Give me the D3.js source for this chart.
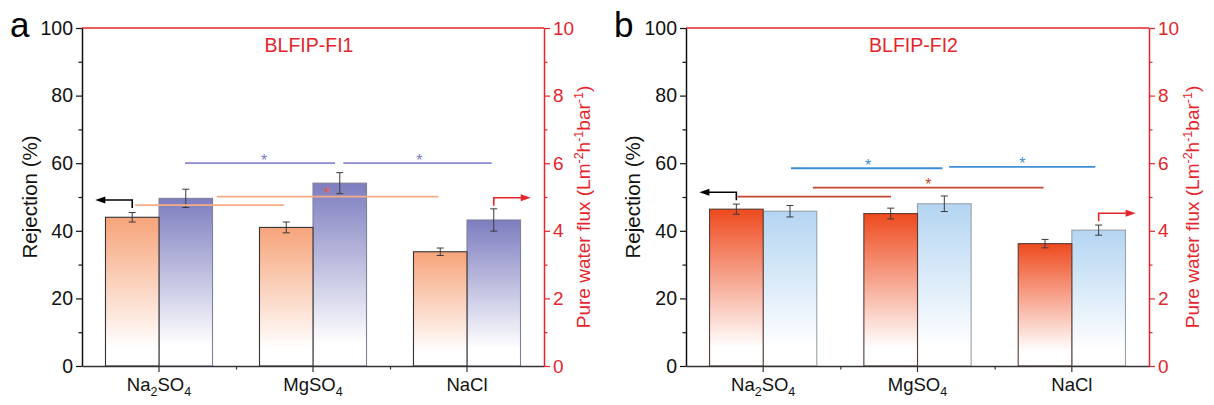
<!DOCTYPE html>
<html>
<head>
<meta charset="utf-8">
<script src="https://cdn.jsdelivr.net/npm/d3@7/dist/d3.min.js"></script>
<style>
  body { margin: 0; background: #fff; }
  svg text { font-family: "Liberation Sans", Arial, sans-serif; }
</style>
</head>
<body>
<div id="chart"></div>
<script>
////////////////////////////////////////////////////////////////////
////////////////////////////  Data  ////////////////////////////////
const categories = ["Na2SO4", "MgSO4", "NaCl"];
const yLeftTicks = [0, 20, 40, 60, 80, 100];
const yRightTicks = [0, 2, 4, 6, 8, 10];

// panel a : BLFIP-FI1
const rejectionA = [44.0, 41.0, 33.8];
const rejectionErrA = [1.4, 1.6, 1.1];
const fluxA = [4.96, 5.41, 4.32];
const fluxErrA = [0.27, 0.31, 0.33];

// panel b : BLFIP-FI2
const rejectionB = [46.4, 45.1, 36.2];
const rejectionErrB = [1.5, 1.6, 1.25];
const fluxB = [4.58, 4.80, 4.02];
const fluxErrB = [0.17, 0.23, 0.15];

// significance lines (x in category units, y in % units)
const sigA = [
  { x1: 0.169, x2: 1.143, y: 60, star: 0.682, series: "flux" },
  { x1: 1.197, x2: 2.16, y: 60, star: 1.69, series: "flux" },
  { x1: -0.156, x2: 0.812, y: 47.6, star: null, series: "rej" },
  { x1: 0.375, x2: 1.814, y: 50.1, star: 1.09, series: "rej" },
];
const sigB = [
  { x1: 0.18, x2: 1.162, y: 58.5, star: 0.68, series: "flux" },
  { x1: 1.205, x2: 2.152, y: 58.9, star: 1.68, series: "flux" },
  { x1: 0.322, x2: 1.817, y: 52.8, star: 1.07, series: "rej" },
  { x1: -0.166, x2: 0.828, y: 50.1, star: null, series: "rej" },
];

// axis arrows (level in % units)
const arrowsA = [
  { cat: 0, series: "rej", level: 49.1, dir: -1 },
  { cat: 2, series: "flux", level: 49.8, dir: 1 },
];
const arrowsB = [
  { cat: 0, series: "rej", level: 51.4, dir: -1 },
  { cat: 2, series: "flux", level: 45.2, dir: 1 },
];

////////////////////////////////////////////////////////////////////
////////////////////////////  Init  ////////////////////////////////
const width = 1214;
const height = 405;
const red = "#e5252b";
const yTop = 28, yBot = 366;

const svg = d3.select("#chart").append("svg")
  .attr("width", width).attr("height", height);
const defs = svg.append("defs");

const panels = [
  {
    id: "a", title: "BLFIP-FI1", x0: 82, x1: 544,
    rej: rejectionA, rejErr: rejectionErrA, flux: fluxA, fluxErr: fluxErrA,
    sig: sigA, arrows: arrowsA,
    rejTop: "#f6a47a", rejBot: "#ffffff", rejStroke: "#333",
    fluxTop: "#7d7dc0", fluxBot: "#ffffff", fluxStroke: "#80809a",
    rejLine: "#f6ac86", rejStar: "#ee5a3a", fluxLine: "#8a8ad0", fluxStar: "#7a7acc",
    leftLabelX: 30, rightLabelX: 590,
  },
  {
    id: "b", title: "BLFIP-FI2", x0: 686, x1: 1149,
    rej: rejectionB, rejErr: rejectionErrB, flux: fluxB, fluxErr: fluxErrB,
    sig: sigB, arrows: arrowsB,
    rejTop: "#ee4a1e", rejBot: "#ffffff", rejStroke: "#5a3a32",
    fluxTop: "#b4d5f2", fluxBot: "#ffffff", fluxStroke: "#96a2ac",
    rejLine: "#c2472c", rejStar: "#c2472c", fluxLine: "#3e8fd6", fluxStar: "#3e8fd6",
    leftLabelX: 633, rightLabelX: 1199,
  },
];

const makeGrad = (id, top, bot) => {
  const lg = defs.append("linearGradient").attr("id", id)
    .attr("x1", 0).attr("y1", 0).attr("x2", 0).attr("y2", 1);
  lg.append("stop").attr("offset", "0%").attr("stop-color", top);
  lg.append("stop").attr("offset", "88%").attr("stop-color", bot);
};

panels.forEach((p) => {
  makeGrad(`rej-${p.id}`, p.rejTop, p.rejBot);
  makeGrad(`flux-${p.id}`, p.fluxTop, p.fluxBot);

  const g = svg.append("g");

  // scales
  const x = d3.scaleBand().domain(categories).range([p.x0, p.x1])
    .paddingInner(0.305).paddingOuter(0.1525);
  const xs = d3.scaleBand().domain(["rej", "flux"]).range([0, x.bandwidth()]);
  const xc = d3.scaleLinear().domain([0, 1])
    .range([x(categories[0]) + x.bandwidth() / 2, x(categories[1]) + x.bandwidth() / 2]);
  const yL = d3.scaleLinear().domain([0, 100]).range([yBot, yTop]);
  const yR = d3.scaleLinear().domain([0, 10]).range([yBot, yTop]);

  const rows = categories.map((c, i) => [
    { cat: c, series: "rej", v: p.rej[i], e: p.rejErr[i], y: yL },
    { cat: c, series: "flux", v: p.flux[i], e: p.fluxErr[i], y: yR },
  ]).flat();

  // bars (flux first so the shared edge keeps the dark outline)
  const order = rows.slice().sort((a, b) => (a.series === "flux" ? -1 : 1) - (b.series === "flux" ? -1 : 1));
  g.selectAll("rect.bar").data(order).enter().append("rect")
    .attr("class", "bar")
    .attr("x", (d) => x(d.cat) + xs(d.series))
    .attr("y", (d) => d.y(d.v))
    .attr("width", xs.bandwidth())
    .attr("height", (d) => yBot - d.y(d.v))
    .attr("fill", (d) => `url(#${d.series}-${p.id})`)
    .attr("stroke", (d) => (d.series === "rej" ? p.rejStroke : p.fluxStroke))
    .attr("stroke-width", 1.1);

  // error bars
  const cx = (d) => x(d.cat) + xs(d.series) + xs.bandwidth() / 2;
  const eb = g.selectAll("g.err").data(rows).enter().append("g")
    .attr("stroke", "#3a3a3a").attr("stroke-width", 1);
  eb.append("line").attr("x1", cx).attr("x2", cx)
    .attr("y1", (d) => d.y(d.v + d.e)).attr("y2", (d) => d.y(d.v - d.e));
  eb.append("line").attr("x1", (d) => cx(d) - 3.5).attr("x2", (d) => cx(d) + 3.5)
    .attr("y1", (d) => d.y(d.v + d.e)).attr("y2", (d) => d.y(d.v + d.e));
  eb.append("line").attr("x1", (d) => cx(d) - 3.5).attr("x2", (d) => cx(d) + 3.5)
    .attr("y1", (d) => d.y(d.v - d.e)).attr("y2", (d) => d.y(d.v - d.e));

  // significance lines
  g.selectAll("line.sig").data(p.sig).enter().append("line")
    .attr("x1", (d) => xc(d.x1)).attr("x2", (d) => xc(d.x2))
    .attr("y1", (d) => yL(d.y)).attr("y2", (d) => yL(d.y))
    .attr("stroke", (d) => (d.series === "rej" ? p.rejLine : p.fluxLine))
    .attr("stroke-width", 1.8);
  g.selectAll("text.star").data(p.sig.filter((d) => d.star !== null)).enter().append("text")
    .attr("x", (d) => xc(d.star)).attr("y", (d) => yL(d.y) + 2.5)
    .attr("text-anchor", "middle").attr("font-size", 16)
    .attr("fill", (d) => (d.series === "rej" ? p.rejStar : p.fluxStar))
    .text("*");

  // arrows
  p.arrows.forEach((a) => {
    const ax = x(categories[a.cat]) + xs(a.series) + xs.bandwidth() / 2;
    const ay = yL(a.level);
    const col = a.dir < 0 ? "#000" : red;
    const tip = ax + a.dir * 37;
    g.append("path")
      .attr("d", `M${ax},${ay + 8}V${ay}H${tip - a.dir * 7}`)
      .attr("fill", "none").attr("stroke", col).attr("stroke-width", 1.6);
    g.append("path")
      .attr("d", `M${tip},${ay}L${tip - a.dir * 10},${ay - 3.5}L${tip - a.dir * 10},${ay + 3.5}Z`)
      .attr("fill", col);
  });

  // axes
  const styleAxis = (sel, col, fs) => {
    sel.selectAll("path").attr("stroke", col).attr("stroke-width", 1.5);
    sel.selectAll("line").attr("stroke", col).attr("stroke-width", 1.2);
    sel.selectAll("text").attr("fill", col).attr("font-size", fs || 18.5)
      .attr("font-family", "'Liberation Sans', Arial, sans-serif");
  };

  // top frame line
  g.append("line").attr("x1", p.x0).attr("x2", p.x1)
    .attr("y1", yTop).attr("y2", yTop).attr("stroke", red).attr("stroke-width", 1.3);

  const xAxis = g.append("g").attr("transform", `translate(0,${yBot})`)
    .call(d3.axisBottom(x).tickSize(6).tickSizeOuter(0).tickFormat(""));
  styleAxis(xAxis, "#333");
  const xMinor = g.append("g").attr("transform", `translate(0,${yBot})`)
    .call(d3.axisBottom(xc).tickValues([0.5, 1.5]).tickSize(3.5).tickFormat(""));
  xMinor.select(".domain").remove();
  styleAxis(xMinor, "#333");

  const yAxisL = g.append("g").attr("transform", `translate(${p.x0},0)`)
    .call(d3.axisLeft(yL).tickValues(yLeftTicks).tickSize(6).tickSizeOuter(0).tickPadding(3));
  styleAxis(yAxisL, "#111", 19.5);
  const yMinorL = g.append("g").attr("transform", `translate(${p.x0},0)`)
    .call(d3.axisLeft(yL).tickValues([10, 30, 50, 70, 90]).tickSize(3.5).tickFormat(""));
  yMinorL.select(".domain").remove();
  styleAxis(yMinorL, "#111");

  const yAxisR = g.append("g").attr("transform", `translate(${p.x1},0)`)
    .call(d3.axisRight(yR).tickValues(yRightTicks).tickSize(6).tickSizeOuter(0).tickPadding(3));
  styleAxis(yAxisR, red, 19);
  const yMinorR = g.append("g").attr("transform", `translate(${p.x1},0)`)
    .call(d3.axisRight(yR).tickValues([1, 3, 5, 7, 9]).tickSize(3.5).tickFormat(""));
  yMinorR.select(".domain").remove();
  styleAxis(yMinorR, red);

  // category labels with subscripts
  categories.forEach((c) => {
    const t = g.append("text")
      .attr("x", x(c) + x.bandwidth() / 2).attr("y", 391)
      .attr("text-anchor", "middle").attr("font-size", 18.5).attr("fill", "#111");
    c.split(/(\d)/).filter((s) => s.length).forEach((s, i, arr) => {
      const prevSub = i > 0 && /\d/.test(arr[i - 1]);
      if (/\d/.test(s)) {
        t.append("tspan").attr("font-size", 12.5).attr("dy", 5).text(s);
      } else {
        t.append("tspan").attr("dy", prevSub ? -5 : 0).text(s);
      }
    });
  });

  // axis titles
  g.append("text")
    .attr("transform", `translate(${p.leftLabelX},${(yTop + yBot) / 2}) rotate(-90)`)
    .attr("text-anchor", "middle").attr("dy", "0.35em")
    .attr("font-size", 20.5).attr("fill", "#111").text("Rejection (%)");

  const rt = g.append("text")
    .attr("transform", `translate(${p.rightLabelX},${(yTop + yBot) / 2 + 10}) rotate(-90)`)
    .attr("text-anchor", "middle").attr("dy", "0.35em")
    .attr("font-size", 19).attr("fill", red);
  [["Pure water flux (Lm", 0], ["-2", 1], ["h", 0], ["-1", 1], ["bar", 0], ["-1", 1], [")", 0]]
    .forEach(([s, sup], i, arr) => {
      const prevSup = i > 0 && arr[i - 1][1];
      const dy = sup ? -7 : prevSup ? 7 : 0;
      rt.append("tspan").attr("dy", dy).attr("font-size", sup ? 12.5 : 19).text(s);
    });

  // panel title and letter
  g.append("text").attr("x", (p.x0 + p.x1) / 2 - 4).attr("y", 52)
    .attr("text-anchor", "middle").attr("font-size", 19.5).attr("fill", red).text(p.title);
  g.append("text").attr("x", p.x0 - 72).attr("y", 37)
    .attr("font-size", 35).attr("fill", "#000").text(p.id);
});
</script>
</body>
</html>
